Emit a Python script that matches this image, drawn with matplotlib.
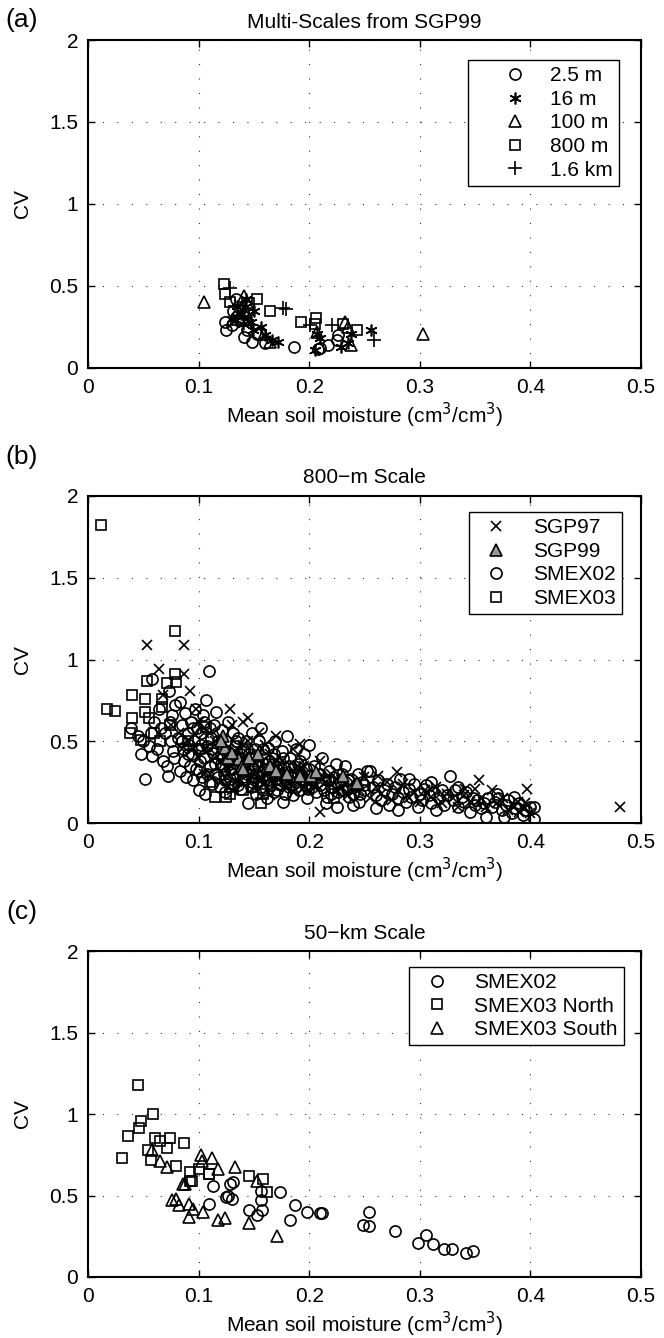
import numpy as np
import matplotlib.pyplot as plt

plt.rcParams['font.family'] = ['Liberation Sans', 'DejaVu Sans']

# ---------------- dados do painel (a): multi-escalas SGP99 ----------------
a_circ_x = [0.124, 0.125, 0.134, 0.141, 0.148, 0.153, 0.144, 0.186, 0.208, 0.217, 0.225, 0.226, 0.131, 0.130, 0.137, 0.160, 0.210]
a_circ_y = [0.28, 0.23, 0.42, 0.19, 0.156, 0.21, 0.23, 0.13, 0.115, 0.14, 0.17, 0.20, 0.345, 0.26, 0.30, 0.15, 0.12]
a_star_x = [0.256, 0.205, 0.207, 0.172, 0.166, 0.156, 0.134, 0.229, 0.238, 0.149, 0.138, 0.142, 0.145, 0.140, 0.150, 0.135, 0.147, 0.160, 0.235, 0.210, 0.143, 0.130]
a_star_y = [0.23, 0.11, 0.21, 0.16, 0.17, 0.25, 0.29, 0.13, 0.21, 0.23, 0.33, 0.37, 0.31, 0.27, 0.35, 0.38, 0.28, 0.20, 0.15, 0.18, 0.42, 0.30]
a_tri_x = [0.105, 0.303, 0.141, 0.165, 0.159, 0.232, 0.238, 0.136, 0.207, 0.131, 0.145, 0.235]
a_tri_y = [0.40, 0.21, 0.44, 0.156, 0.21, 0.28, 0.14, 0.355, 0.22, 0.30, 0.39, 0.25]
a_sq_x = [0.123, 0.124, 0.128, 0.153, 0.165, 0.193, 0.206, 0.231, 0.243, 0.146, 0.205]
a_sq_y = [0.51, 0.45, 0.40, 0.42, 0.345, 0.28, 0.305, 0.27, 0.23, 0.395, 0.27]
a_plus_x = [0.128, 0.176, 0.179, 0.201, 0.221, 0.259, 0.133, 0.140, 0.135]
a_plus_y = [0.49, 0.365, 0.36, 0.26, 0.26, 0.17, 0.38, 0.34, 0.31]
a_labels = ['2.5 m', '16 m', '100 m', '800 m', '1.6 km']

# ---------------- dados do painel (b): escala de 800 m ----------------
sgp97_x = [0.053, 0.087, 0.064, 0.087, 0.092, 0.068, 0.098, 0.140, 0.192, 0.210, 0.186, 0.279, 0.354, 0.350,
           0.341, 0.397, 0.389, 0.481, 0.262, 0.075, 0.082, 0.090, 0.100, 0.105, 0.110, 0.115, 0.120, 0.125,
           0.130, 0.135, 0.140, 0.145, 0.150, 0.155, 0.160, 0.165, 0.170, 0.175, 0.180, 0.185, 0.190, 0.195,
           0.200, 0.205, 0.210, 0.215, 0.220, 0.225, 0.230, 0.235, 0.240, 0.245, 0.250, 0.255, 0.260, 0.265,
           0.270, 0.275, 0.280, 0.285, 0.290, 0.295, 0.300, 0.305, 0.310, 0.315, 0.320, 0.325, 0.330, 0.335,
           0.340, 0.345, 0.355, 0.360, 0.365, 0.370, 0.375, 0.380, 0.385, 0.390, 0.395, 0.400, 0.395, 0.120,
           0.130, 0.150, 0.110, 0.160, 0.170, 0.140, 0.128, 0.145, 0.155, 0.165, 0.178,
           0.100, 0.105, 0.110, 0.115, 0.120, 0.125, 0.130, 0.135, 0.140, 0.145, 0.150, 0.155, 0.160, 0.165,
           0.170, 0.175, 0.180, 0.185, 0.190, 0.195, 0.200, 0.205, 0.210, 0.220, 0.225, 0.230, 0.240, 0.095,
           0.085, 0.105]
sgp97_y = [1.09, 1.09, 0.94, 0.91, 0.81, 0.78, 0.70, 0.62, 0.485, 0.067, 0.19, 0.31, 0.265, 0.21,
           0.21, 0.205, 0.13, 0.098, 0.29, 0.60, 0.55, 0.50, 0.62, 0.45, 0.55, 0.40, 0.48, 0.35,
           0.60, 0.45, 0.30, 0.50, 0.38, 0.55, 0.30, 0.42, 0.25, 0.38, 0.30, 0.45, 0.25, 0.35,
           0.20, 0.30, 0.38, 0.25, 0.30, 0.20, 0.27, 0.17, 0.25, 0.20, 0.28, 0.15, 0.22, 0.18,
           0.25, 0.14, 0.20, 0.24, 0.15, 0.19, 0.13, 0.20, 0.16, 0.22, 0.12, 0.18, 0.15, 0.10,
           0.17, 0.13, 0.15, 0.10, 0.20, 0.12, 0.15, 0.08, 0.10, 0.07, 0.09, 0.06, 0.12, 0.25,
           0.20, 0.22, 0.30, 0.48, 0.53, 0.40, 0.70, 0.64, 0.27, 0.17, 0.22,
           0.40, 0.30, 0.45, 0.50, 0.38, 0.28, 0.35, 0.25, 0.48, 0.35, 0.30, 0.42, 0.25, 0.33,
           0.38, 0.28, 0.22, 0.32, 0.35, 0.22, 0.27, 0.22, 0.28, 0.23, 0.27, 0.22, 0.19, 0.45,
           0.45, 0.55]
sgp99_x = [0.122, 0.124, 0.127, 0.137, 0.139, 0.140, 0.146, 0.154, 0.165, 0.192, 0.202, 0.206, 0.231, 0.243,
           0.170, 0.180, 0.130, 0.120]
sgp99_y = [0.53, 0.46, 0.40, 0.39, 0.35, 0.33, 0.40, 0.42, 0.35, 0.29, 0.29, 0.31, 0.29, 0.245,
           0.32, 0.30, 0.43, 0.50]
smex02_x = [0.039, 0.045, 0.048, 0.052, 0.055, 0.058, 0.058, 0.060, 0.050, 0.057,
            0.062, 0.064, 0.066, 0.068, 0.071, 0.073, 0.074, 0.075, 0.077, 0.079, 0.070, 0.072, 0.076, 0.078,
            0.081, 0.083, 0.083, 0.085, 0.086, 0.087, 0.088, 0.089, 0.090, 0.091, 0.092, 0.093, 0.094, 0.095,
            0.096, 0.097, 0.098, 0.099, 0.100, 0.100,
            0.101, 0.102, 0.103, 0.104, 0.105, 0.106, 0.107, 0.108, 0.109, 0.110, 0.111, 0.112, 0.113, 0.114,
            0.115, 0.116, 0.117, 0.118, 0.119, 0.120,
            0.121, 0.122, 0.123, 0.124, 0.125, 0.126, 0.127, 0.128, 0.129, 0.130, 0.131, 0.132, 0.133, 0.134,
            0.135, 0.136, 0.137, 0.138, 0.139, 0.140,
            0.141, 0.142, 0.143, 0.144, 0.145, 0.146, 0.147, 0.148, 0.149, 0.150, 0.151, 0.152, 0.153, 0.154,
            0.155, 0.156, 0.157, 0.158, 0.159, 0.160,
            0.161, 0.162, 0.163, 0.164, 0.165, 0.166, 0.167, 0.168, 0.169, 0.170, 0.171, 0.172, 0.173, 0.174,
            0.175, 0.176, 0.177, 0.178, 0.180, 0.180,
            0.182, 0.183, 0.184, 0.185, 0.186, 0.187, 0.188, 0.190, 0.191, 0.192, 0.193, 0.195, 0.196, 0.197,
            0.198, 0.200, 0.200, 0.199,
            0.202, 0.204, 0.206, 0.208, 0.210, 0.212, 0.214, 0.216, 0.218, 0.220, 0.222, 0.224, 0.226, 0.228,
            0.230, 0.232, 0.234, 0.236, 0.238, 0.240, 0.242, 0.244, 0.246, 0.248, 0.250, 0.252, 0.215, 0.225, 0.245,
            0.255, 0.258, 0.260, 0.262, 0.265, 0.268, 0.270, 0.272, 0.275, 0.278, 0.280, 0.282, 0.285, 0.288,
            0.290, 0.292, 0.295, 0.298, 0.300, 0.260, 0.280, 0.290,
            0.302, 0.304, 0.306, 0.308, 0.310, 0.312, 0.315, 0.317, 0.320, 0.322, 0.325, 0.327, 0.330, 0.332,
            0.335, 0.338, 0.340, 0.342, 0.345, 0.348, 0.350, 0.310, 0.335,
            0.352, 0.355, 0.358, 0.360, 0.362, 0.365, 0.368, 0.371, 0.374, 0.376, 0.378, 0.380, 0.383, 0.386,
            0.390, 0.393, 0.396, 0.400, 0.403, 0.403, 0.370, 0.385,
            0.085, 0.090, 0.095, 0.100, 0.102, 0.105, 0.108, 0.110, 0.112, 0.115, 0.118, 0.120, 0.122, 0.124,
            0.126, 0.128, 0.130, 0.132, 0.134, 0.136, 0.138, 0.140, 0.142, 0.144, 0.146, 0.148, 0.150, 0.152,
            0.154, 0.156, 0.158, 0.160, 0.162, 0.164, 0.166, 0.168, 0.170, 0.172, 0.174, 0.176, 0.178, 0.180,
            0.182, 0.185, 0.188, 0.190, 0.193, 0.196, 0.200, 0.203, 0.206, 0.210, 0.213, 0.217, 0.220, 0.226,
            0.230, 0.235, 0.240, 0.250]
smex02_y = [0.58, 0.53, 0.42, 0.27, 0.47, 0.88, 0.41, 0.62, 0.50, 0.55,
            0.45, 0.70, 0.58, 0.38, 0.35, 0.81, 0.62, 0.50, 0.44, 0.72, 0.55, 0.29, 0.66, 0.40,
            0.52, 0.74, 0.32, 0.60, 0.45, 0.38, 0.67, 0.28, 0.55, 0.48, 0.35, 0.62, 0.42, 0.26,
            0.50, 0.70, 0.33, 0.58, 0.45, 0.20,
            0.38, 0.55, 0.28, 0.66, 0.62, 0.18, 0.755, 0.47, 0.93, 0.35, 0.52, 0.24, 0.43, 0.60,
            0.30, 0.68, 0.40, 0.50, 0.22, 0.36,
            0.57, 0.45, 0.30, 0.19, 0.50, 0.38, 0.62, 0.27, 0.42, 0.33, 0.55, 0.24, 0.47, 0.36,
            0.29, 0.52, 0.40, 0.21, 0.31, 0.45,
            0.35, 0.26, 0.50, 0.30, 0.12, 0.42, 0.22, 0.55, 0.33, 0.28, 0.45, 0.18, 0.38, 0.25,
            0.50, 0.58, 0.31, 0.20, 0.40, 0.27,
            0.36, 0.15, 0.46, 0.29, 0.23, 0.40, 0.33, 0.19, 0.50, 0.27, 0.20, 0.37, 0.30, 0.24,
            0.44, 0.13, 0.34, 0.26, 0.53, 0.31,
            0.22, 0.40, 0.28, 0.17, 0.35, 0.25, 0.45, 0.30, 0.20, 0.38, 0.27, 0.42, 0.23, 0.33,
            0.15, 0.29, 0.48, 0.21,
            0.26, 0.35, 0.19, 0.30, 0.23, 0.40, 0.27, 0.16, 0.32, 0.22, 0.28, 0.36, 0.19, 0.25,
            0.30, 0.35, 0.21, 0.16, 0.27, 0.108, 0.23, 0.30, 0.18, 0.25, 0.20, 0.32, 0.12, 0.10, 0.13,
            0.32, 0.22, 0.17, 0.26, 0.14, 0.20, 0.24, 0.11, 0.18, 0.22, 0.15, 0.27, 0.19, 0.13,
            0.21, 0.16, 0.24, 0.10, 0.18, 0.09, 0.08, 0.27,
            0.14, 0.21, 0.23, 0.17, 0.12, 0.19, 0.08, 0.15, 0.20, 0.11, 0.17, 0.29, 0.14, 0.20,
            0.10, 0.16, 0.13, 0.19, 0.07, 0.15, 0.11, 0.25, 0.22,
            0.14, 0.09, 0.12, 0.037, 0.15, 0.10, 0.13, 0.15, 0.08, 0.037, 0.11, 0.14, 0.06, 0.09,
            0.12, 0.05, 0.08, 0.10, 0.098, 0.027, 0.18, 0.16,
            0.50, 0.42, 0.58, 0.32, 0.48, 0.40, 0.30, 0.58, 0.45, 0.36, 0.28, 0.42, 0.35, 0.26,
            0.44, 0.33, 0.40, 0.30, 0.50, 0.23, 0.42, 0.28, 0.38, 0.45, 0.32, 0.25, 0.40, 0.30,
            0.35, 0.22, 0.45, 0.33, 0.26, 0.38, 0.30, 0.42, 0.34, 0.24, 0.30, 0.40, 0.18, 0.25,
            0.35, 0.28, 0.22, 0.36, 0.30, 0.26, 0.33, 0.22, 0.28, 0.30, 0.20, 0.26, 0.18, 0.24,
            0.20, 0.26, 0.18, 0.23]
smex03_x = [0.012, 0.079, 0.017, 0.024, 0.040, 0.052, 0.053, 0.040, 0.038, 0.048, 0.052, 0.055, 0.067, 0.067,
            0.071, 0.079, 0.080, 0.074, 0.115, 0.125, 0.128, 0.156, 0.158, 0.149, 0.222, 0.107, 0.060, 0.090,
            0.100, 0.065, 0.130, 0.140, 0.110]
smex03_y = [1.82, 1.175, 0.70, 0.685, 0.78, 0.76, 0.87, 0.645, 0.55, 0.51, 0.68, 0.645, 0.76, 0.71,
            0.855, 0.91, 0.86, 0.60, 0.16, 0.16, 0.18, 0.12, 0.18, 0.22, 0.15, 0.59, 0.55, 0.50,
            0.45, 0.50, 0.22, 0.20, 0.25]

# ---------------- dados do painel (c): escala de 50 km ----------------
c_smex02_x = [0.174, 0.187, 0.198, 0.210, 0.212, 0.183, 0.254, 0.249, 0.254, 0.278, 0.298, 0.306, 0.312, 0.322,
              0.329, 0.342, 0.348, 0.113, 0.128, 0.131, 0.125, 0.130, 0.127, 0.146, 0.153, 0.157, 0.156, 0.109, 0.156]
c_smex02_y = [0.52, 0.44, 0.40, 0.39, 0.39, 0.35, 0.40, 0.32, 0.31, 0.28, 0.21, 0.26, 0.20, 0.17,
              0.17, 0.15, 0.16, 0.56, 0.57, 0.58, 0.49, 0.48, 0.50, 0.41, 0.38, 0.41, 0.47, 0.45, 0.53]
c_north_x = [0.045, 0.059, 0.048, 0.046, 0.036, 0.031, 0.061, 0.065, 0.074, 0.087, 0.054, 0.071, 0.057, 0.080,
             0.092, 0.094, 0.109, 0.146, 0.158, 0.162, 0.092, 0.109, 0.100]
c_north_y = [1.18, 1.00, 0.955, 0.915, 0.865, 0.73, 0.85, 0.835, 0.85, 0.82, 0.78, 0.79, 0.72, 0.68,
             0.645, 0.59, 0.635, 0.62, 0.60, 0.52, 0.59, 0.63, 0.66]
c_south_x = [0.058, 0.065, 0.071, 0.088, 0.102, 0.103, 0.112, 0.118, 0.133, 0.153, 0.076, 0.082, 0.091, 0.095,
             0.091, 0.104, 0.118, 0.124, 0.146, 0.171, 0.086, 0.080]
c_south_y = [0.78, 0.71, 0.675, 0.57, 0.75, 0.71, 0.73, 0.665, 0.675, 0.59, 0.47, 0.44, 0.45, 0.42,
             0.37, 0.40, 0.35, 0.36, 0.33, 0.25, 0.57, 0.48]

x_ticks = [0, 0.1, 0.2, 0.3, 0.4, 0.5]
x_tick_labels = ['0', '0.1', '0.2', '0.3', '0.4', '0.5']
y_ticks = [0, 0.5, 1, 1.5, 2]
y_tick_labels = ['0', '0.5', '1', '1.5', '2']

FS = 15


# Função para configurar os eixos no estilo MATLAB
def setup_axes(ax, title):
    ax.set_xlim(0, 0.5)
    ax.set_ylim(0, 2)
    ax.set_xticks(x_ticks)
    ax.set_xticklabels(x_tick_labels)
    ax.set_yticks(y_ticks)
    ax.set_yticklabels(y_tick_labels)
    ax.tick_params(direction='in', top=True, right=True, length=5, width=1.0, labelsize=FS, pad=7)
    for sp in ax.spines.values():
        sp.set_linewidth(1.5)
    ax.grid(True, color='0.2', linestyle=(0, (1, 12)), linewidth=0.8)
    ax.set_axisbelow(True)
    ax.set_title(title, fontsize=FS, pad=9)
    ax.set_xlabel('Mean soil moisture (cm$^3$/cm$^3$)', fontsize=FS, labelpad=3)
    ax.set_ylabel('CV', fontsize=FS, labelpad=12)


# Função para a legenda com moldura preta e cantos retos
def make_legend(ax, anchor, hl, htp, handles=None, labels=None):
    if handles is None:
        handles, labels = ax.get_legend_handles_labels()
    leg = ax.legend(handles, labels, loc='upper right', bbox_to_anchor=anchor, borderaxespad=0,
                    fontsize=FS, frameon=True, fancybox=False, edgecolor='black', framealpha=1,
                    handlelength=hl, handletextpad=htp, labelspacing=0.22, borderpad=0.3)
    leg.get_frame().set_linewidth(1.0)
    return leg


mk = dict(linestyle='none', color='black', markerfacecolor='none', markeredgewidth=1.2)
MS_O, MS_S, MS_T = 8.0, 7.0, 8.5

fig = plt.figure(figsize=(6.64, 13.38), dpi=100)
left, width = 0.1325, 0.8328

# Painel (a)
ax1 = fig.add_axes([left, 0.7250, width, 0.2451])
ax1.plot(a_circ_x, a_circ_y, marker='o', markersize=MS_O, label=a_labels[0], **mk)
ax1.plot(a_star_x, a_star_y, marker=(6, 2, 0), markersize=8.5, label=a_labels[1], **mk)
ax1.plot(a_tri_x, a_tri_y, marker='^', markersize=MS_T, label=a_labels[2], **mk)
ax1.plot(a_sq_x, a_sq_y, marker='s', markersize=MS_S, label=a_labels[3], **mk)
ax1.plot(a_plus_x, a_plus_y, marker='+', markersize=10, label=a_labels[4], **mk)
setup_axes(ax1, 'Multi-Scales from SGP99')
make_legend(ax1, (0.960, 0.939), 4.0, -0.35)

# Painel (b)
ax2 = fig.add_axes([left, 0.3849, width, 0.2444])
ax2.plot(sgp97_x, sgp97_y, marker='x', markersize=7, label='SGP97', **mk)
ax2.plot(smex02_x, smex02_y, marker='o', markersize=MS_O, label='SMEX02', **mk)
ax2.plot(smex03_x, smex03_y, marker='s', markersize=MS_S, label='SMEX03', **mk)
ax2.plot(sgp99_x, sgp99_y, marker='^', markersize=MS_T, linestyle='none', color='black',
         markerfacecolor='0.6', markeredgewidth=1.2, label='SGP99')
setup_axes(ax2, '800\u2212m Scale')
h, l = ax2.get_legend_handles_labels()
order = [0, 3, 1, 2]
make_legend(ax2, (0.966, 0.951), 2.0, 0.8, [h[i] for i in order], [l[i] for i in order])

# Painel (c)
ax3 = fig.add_axes([left, 0.0456, width, 0.2436])
ax3.plot(c_smex02_x, c_smex02_y, marker='o', markersize=MS_O, label='SMEX02', **mk)
ax3.plot(c_north_x, c_north_y, marker='s', markersize=MS_S, label='SMEX03 North', **mk)
ax3.plot(c_south_x, c_south_y, marker='^', markersize=MS_T, label='SMEX03 South', **mk)
setup_axes(ax3, '50\u2212km Scale')
make_legend(ax3, (0.969, 0.952), 2.0, 0.8)

# Rótulos dos painéis
fig.text(22 / 664, 1 - 20 / 1338, '(a)', fontsize=19, ha='center', va='center')
fig.text(22 / 664, 1 - 457 / 1338, '(b)', fontsize=19, ha='center', va='center')
fig.text(22 / 664, 1 - 912 / 1338, '(c)', fontsize=19, ha='center', va='center')

fig.savefig('out.png', dpi=100)
